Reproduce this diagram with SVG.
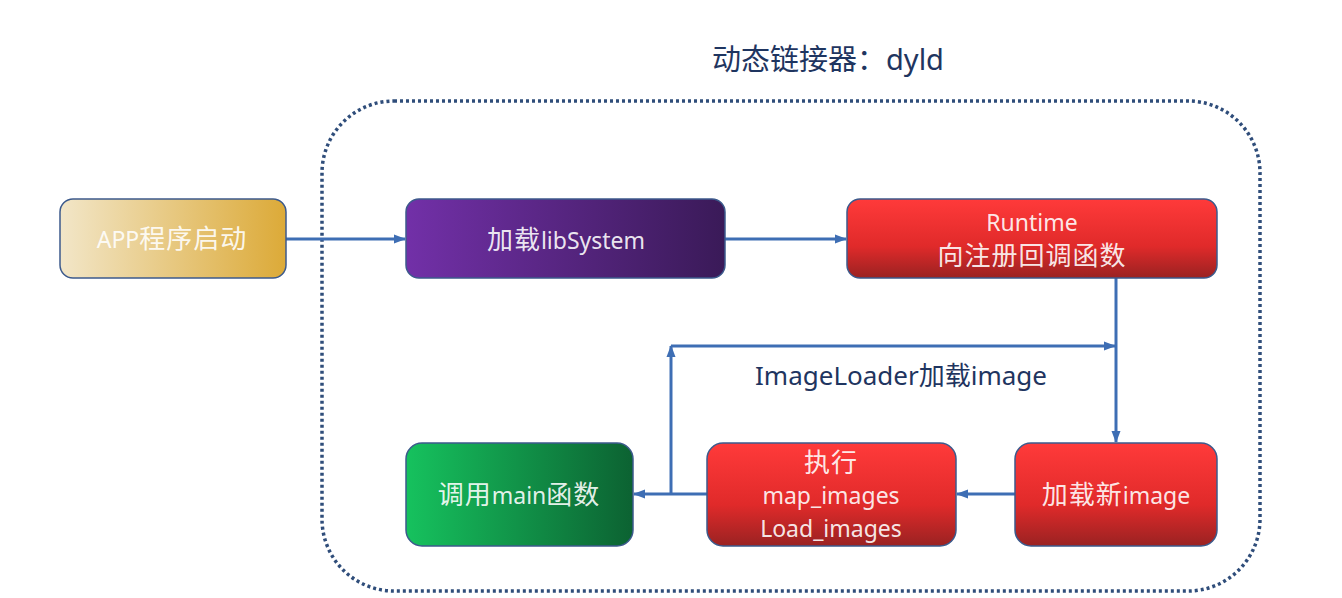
<svg xmlns="http://www.w3.org/2000/svg" width="1342" height="598" viewBox="0 0 1342 598">
  <defs>
    <linearGradient id="gGold" x1="0" y1="0" x2="1" y2="0">
      <stop offset="0" stop-color="#f2e6c8"/>
      <stop offset="1" stop-color="#dcaa38"/>
    </linearGradient>
    <linearGradient id="gPurple" x1="0" y1="0" x2="1" y2="0">
      <stop offset="0" stop-color="#7230a8"/>
      <stop offset="1" stop-color="#3a1a58"/>
    </linearGradient>
    <linearGradient id="gRed" x1="0" y1="0" x2="0" y2="1">
      <stop offset="0" stop-color="#ff3a3a"/>
      <stop offset="0.6" stop-color="#e02a2a"/>
      <stop offset="1" stop-color="#9a2222"/>
    </linearGradient>
    <linearGradient id="gGreen" x1="0" y1="0" x2="1" y2="0">
      <stop offset="0" stop-color="#16c25e"/>
      <stop offset="1" stop-color="#0c6232"/>
    </linearGradient>
    <marker id="arrow" markerWidth="12" markerHeight="12" refX="11" refY="6" orient="auto" markerUnits="userSpaceOnUse">
      <path d="M0,1.5 L12,6 L0,10.5 Z" fill="#3e6eb4"/>
    </marker>
    <style>
      .box { stroke: #3c5a8c; stroke-width: 1.5; }
      .lbl { font-family: "Noto Sans", "Noto Sans CJK SC", sans-serif; font-size: 23px; fill: #ffffff; fill-opacity: 0.9; text-anchor: middle; }
      .cj { font-size: 26px; letter-spacing: 1px; }
      .conn { stroke: #3e6eb4; stroke-width: 3; fill: none; }
      .title { font-family: "Noto Sans", "Noto Sans CJK SC", sans-serif; fill: #1f3560; }
    </style>
  </defs>

  <rect x="0" y="0" width="1342" height="598" fill="#ffffff"/>

  <g id="dyld-container">
    <rect x="322" y="101" width="938" height="490" rx="72" ry="72" fill="none" stroke="#2f4d7a" stroke-width="3.5" stroke-dasharray="3 3"/>
    <text class="title" x="828" y="70" font-size="29" text-anchor="middle">动态链接器：dyld</text>
  </g>

  <g id="connectors">
    <line class="conn" x1="286" y1="239" x2="405" y2="239" marker-end="url(#arrow)"/>
    <line class="conn" x1="725" y1="239" x2="846" y2="239" marker-end="url(#arrow)"/>
    <line class="conn" x1="1116" y1="278" x2="1116" y2="442" marker-end="url(#arrow)"/>
    <line class="conn" x1="1015" y1="494" x2="957" y2="494" marker-end="url(#arrow)"/>
    <line class="conn" x1="707" y1="494" x2="634" y2="494" marker-end="url(#arrow)"/>
    <line class="conn" x1="671" y1="494" x2="671" y2="346" marker-end="url(#arrow)"/>
    <line class="conn" x1="671" y1="346" x2="1115" y2="346" marker-end="url(#arrow)"/>
    <text class="title" x="901" y="385" font-size="26" text-anchor="middle">ImageLoader加载image</text>
  </g>

  <g id="app-start">
    <rect class="box" x="60" y="199" width="226" height="79" rx="13" fill="url(#gGold)"/>
    <text class="lbl" x="172" y="248">APP<tspan class="cj">程序启动</tspan></text>
  </g>

  <g id="load-libsystem">
    <rect class="box" x="406" y="199" width="319" height="79" rx="13" fill="url(#gPurple)"/>
    <text class="lbl" x="566" y="249"><tspan class="cj">加载</tspan>libSystem</text>
  </g>

  <g id="runtime">
    <rect class="box" x="847" y="199" width="370" height="79" rx="13" fill="url(#gRed)"/>
    <text class="lbl" x="1032" y="231">Runtime</text>
    <text class="lbl" x="1032" y="265"><tspan class="cj">向注册回调函数</tspan></text>
  </g>

  <g id="load-new-image">
    <rect class="box" x="1015" y="443" width="202" height="103" rx="16" fill="url(#gRed)"/>
    <text class="lbl" x="1116" y="504"><tspan class="cj">加载新</tspan>image</text>
  </g>

  <g id="exec-images">
    <rect class="box" x="707" y="443" width="249" height="103" rx="16" fill="url(#gRed)"/>
    <text class="lbl" x="831" y="472"><tspan class="cj">执行</tspan></text>
    <text class="lbl" x="831" y="504">map_images</text>
    <text class="lbl" x="831" y="537">Load_images</text>
  </g>

  <g id="call-main">
    <rect class="box" x="406" y="443" width="227" height="103" rx="16" fill="url(#gGreen)"/>
    <text class="lbl" x="519" y="504"><tspan class="cj">调用</tspan>main<tspan class="cj">函数</tspan></text>
  </g>
</svg>
